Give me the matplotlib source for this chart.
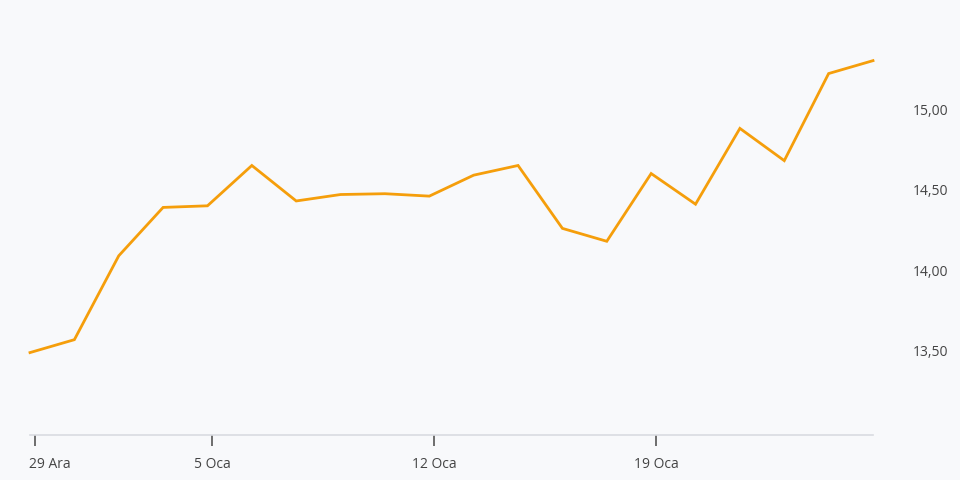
import matplotlib
matplotlib.use("Agg")
import matplotlib.pyplot as plt
import matplotlib.transforms as mtransforms
from matplotlib.ticker import FuncFormatter, FixedLocator

values = [13.49, 13.57, 14.09, 14.39, 14.40, 14.65, 14.43, 14.47, 14.475, 14.46,
          14.59, 14.65, 14.26, 14.18, 14.60, 14.41, 14.88, 14.68, 15.22, 15.30]
date_labels = ["29 Ara", "5 Oca", "12 Oca", "19 Oca"]
date_label_index = [0, 4, 9, 14]
y_ticks = [13.5, 14.0, 14.5, 15.0]

bg = "#f8f9fb"
fig = plt.figure(figsize=(9.6, 4.8), dpi=100, facecolor=bg)
ax = fig.add_axes([30/960, 45/480, 843/960, 435/480], facecolor=bg)

x = list(range(len(values)))
ax.plot(x, values, color="#f59e0b", lw=2.0, solid_joinstyle="miter", clip_on=False)

ax.set_xlim(0, len(values) - 1)
ax.set_ylim(12.979, 15.676)

for s in ["top", "left", "right"]:
    ax.spines[s].set_visible(False)
ax.spines["bottom"].set_color("#d9dce1")
ax.spines["bottom"].set_linewidth(1.2)

ax.xaxis.set_major_locator(FixedLocator([i + 0.11 for i in date_label_index]))
ax.set_xticklabels(date_labels)
ax.tick_params(axis="x", length=8, width=1.2, color="#555555", pad=8,
               labelsize=10, labelcolor="#444444")

ax.yaxis.tick_right()
ax.set_yticks(y_ticks)
ax.yaxis.set_major_formatter(FuncFormatter(lambda v, p: f"{v:.2f}".replace(".", ",")))
ax.tick_params(axis="y", length=0, pad=29, labelsize=10, labelcolor="#444444")
for lbl in ax.get_xticklabels() + ax.get_yticklabels():
    lbl.set_fontfamily("Open Sans")

first = ax.get_xticklabels()[0]
first.set_ha("left")
first.set_transform(first.get_transform() +
                    mtransforms.ScaledTranslation(-6/100, 0, fig.dpi_scale_trans))

fig.savefig("out.png", dpi=100, facecolor=bg)
